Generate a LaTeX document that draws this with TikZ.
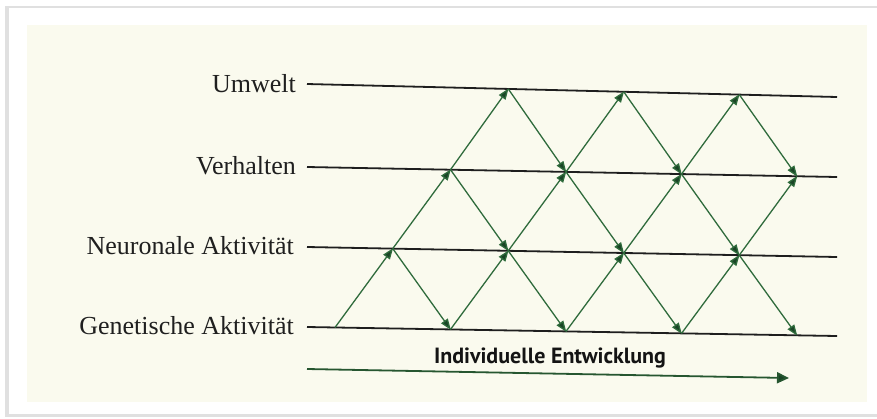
\documentclass[tikz,border=0pt]{standalone}
\usepackage{fontspec}
\setmainfont{Liberation Serif}
\newfontfamily\labsans{PT Sans}
\usetikzlibrary{arrows.meta}
\definecolor{paper}{HTML}{FAFAEE}
\definecolor{diag}{HTML}{2F6B3C}
\definecolor{tipgreen}{HTML}{1A4526}
\definecolor{hline}{HTML}{1E1E1E}
\tikzset{
  layerline/.style={draw=hline, line width=1.8pt},
  layerlabel/.style={anchor=base east, inner sep=0pt, font=\fontsize{26}{30}\selectfont, text=black!88},
  flow/.style={draw=diag, line width=1.3pt, -{Triangle[length=11pt,width=8pt,fill=tipgreen]}, shorten >=-0.5pt},
  devarrow/.style={draw=diag!80!black, line width=1.8pt, -{Triangle[length=12pt,width=11pt,fill=tipgreen]}},
  devlabel/.style={anchor=base, inner sep=0pt, font=\labsans\bfseries\fontsize{22}{26}\selectfont, text=black!92}
}
\begin{document}
\begin{tikzpicture}[x=1pt,y=-1pt]
\useasboundingbox (0,0) rectangle (877,418);
\fill[white] (0,0) rectangle (877,418);
% frame with shadow
\fill[black!12] (5,6) rectangle (879,417);
\fill[white] (9,8) rectangle (879,414);
\fill[paper] (27,25) rectangle (867,402);

% layer lines
\coordinate (Us) at (307,84);  \coordinate (Ue) at (837,97);
\coordinate (Vs) at (307,167); \coordinate (Ve) at (837,177);
\coordinate (Ns) at (307,247); \coordinate (Ne) at (837,257);
\coordinate (Gs) at (307,327); \coordinate (Ge) at (837,336);
\draw[layerline] (Us) -- (Ue);
\draw[layerline] (Vs) -- (Ve);
\draw[layerline] (Ns) -- (Ne);
\draw[layerline] (Gs) -- (Ge);

\node[layerlabel] (lU) at (296,92) {Umwelt};
\node[layerlabel] (lV) at (296,174) {Verhalten};
\node[layerlabel] (lN) at (294,254) {Neuronale Aktivität};
\node[layerlabel] (lG) at (294,334) {Genetische Aktivität};

% lattice points
\coordinate (G0) at (335,327.5);
\coordinate (G2) at (450.5,329.4);
\coordinate (G4) at (566,331.4);
\coordinate (G6) at (681.5,333.4);
\coordinate (G8) at (797,335.3);
\coordinate (N1) at (392.75,248.6);
\coordinate (N3) at (508.25,250.8);
\coordinate (N5) at (623.75,253.0);
\coordinate (N7) at (739.25,255.2);
\coordinate (V2) at (450.5,169.7);
\coordinate (V4) at (566,171.9);
\coordinate (V6) at (681.5,174.1);
\coordinate (V8) at (797,176.3);
\coordinate (U3) at (508.25,88.9);
\coordinate (U5) at (623.75,91.8);
\coordinate (U7) at (739.25,94.6);

% upward diagonals
\draw[flow] (G0) -- (N1);
\draw[flow] (N1) -- (V2);
\draw[flow] (V2) -- (U3);
\draw[flow] (G2) -- (N3);
\draw[flow] (N3) -- (V4);
\draw[flow] (V4) -- (U5);
\draw[flow] (G4) -- (N5);
\draw[flow] (N5) -- (V6);
\draw[flow] (V6) -- (U7);
\draw[flow] (G6) -- (N7);
\draw[flow] (N7) -- (V8);
% downward diagonals
\draw[flow] (N1) -- (G2);
\draw[flow] (V2) -- (N3);
\draw[flow] (N3) -- (G4);
\draw[flow] (U3) -- (V4);
\draw[flow] (V4) -- (N5);
\draw[flow] (N5) -- (G6);
\draw[flow] (U5) -- (V6);
\draw[flow] (V6) -- (N7);
\draw[flow] (N7) -- (G8);
\draw[flow] (U7) -- (V8);

% development arrow
\coordinate (As) at (307,369);
\coordinate (Ae) at (789,378);
\draw[devarrow] (As) -- (Ae);
\node[devlabel] (dev) at (550,363) {Individuelle Entwicklung};
\end{tikzpicture}
\end{document}
